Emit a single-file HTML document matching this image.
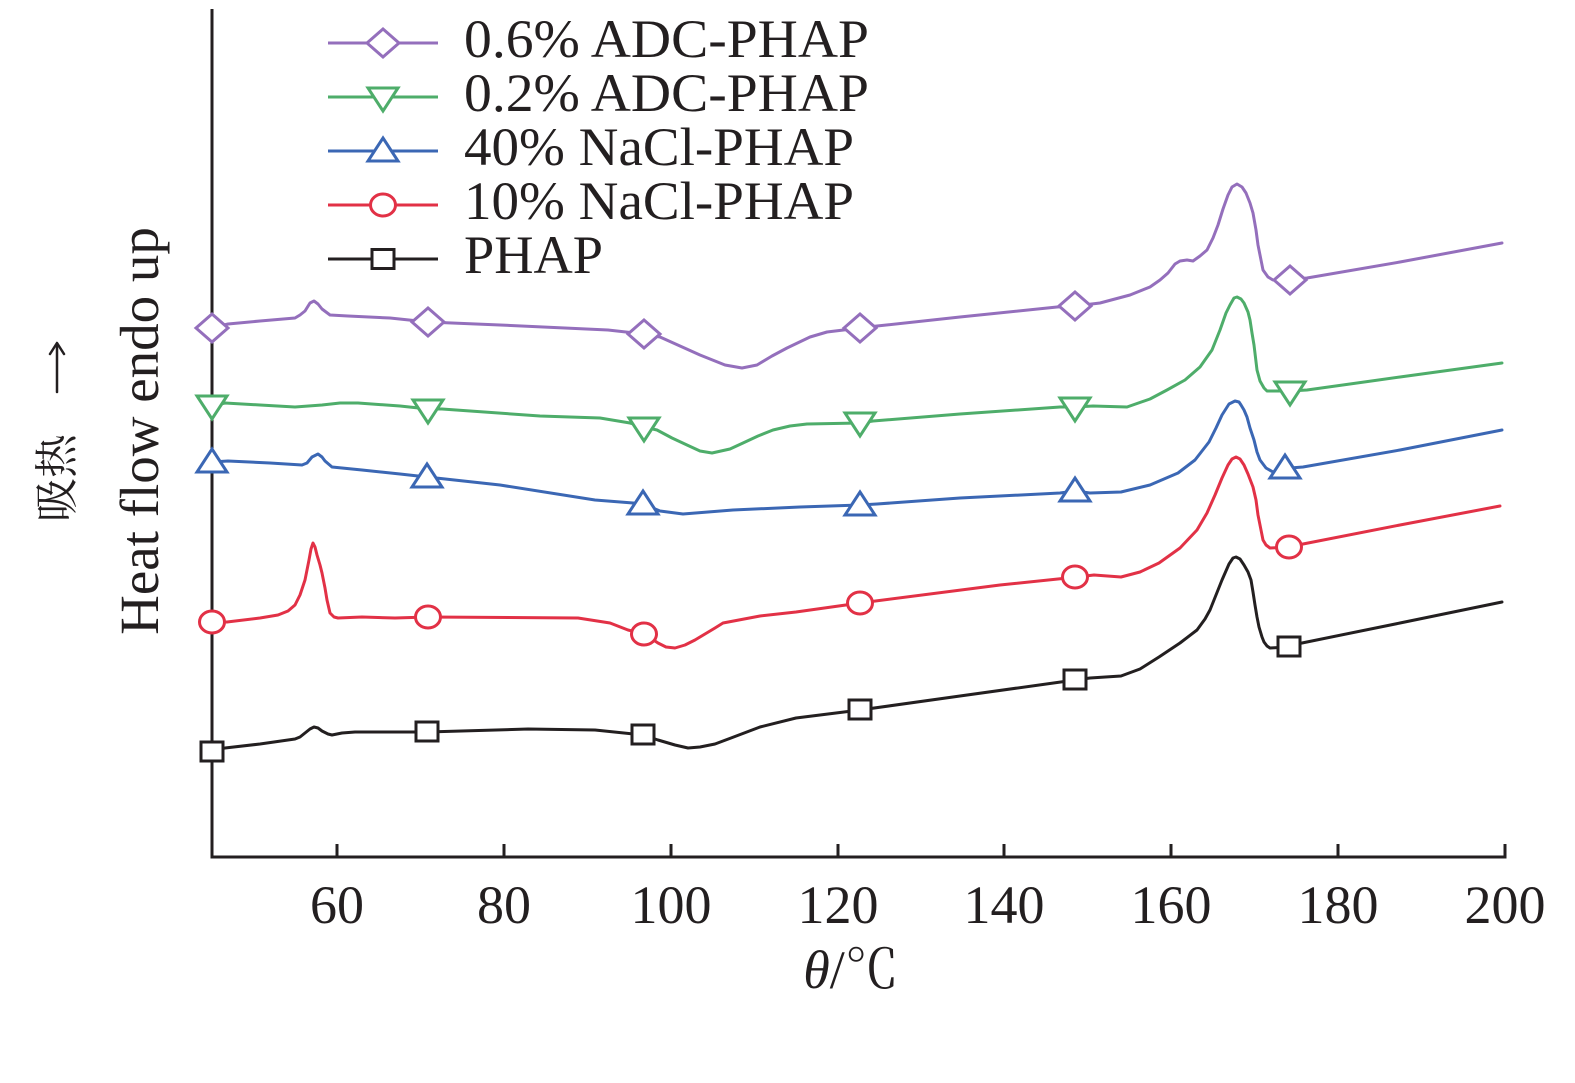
<!DOCTYPE html>
<html>
<head>
<meta charset="utf-8">
<style>
  html,body{margin:0;padding:0;background:#fff;}
  svg{display:block;}
  text{font-family:"Liberation Serif","Noto Serif CJK SC",serif;fill:#231f20;}
</style>
</head>
<body>
<svg width="1575" height="1083" viewBox="0 0 1575 1083" xmlns="http://www.w3.org/2000/svg">
<rect x="0" y="0" width="1575" height="1083" fill="#fff"/>

<!-- axes -->
<g stroke="#231f20" stroke-width="3" fill="none">
  <line x1="212" y1="9" x2="212" y2="858.5"/>
  <line x1="210.5" y1="857" x2="1506.5" y2="857"/>
  <line x1="337" y1="844" x2="337" y2="857"/>
  <line x1="504" y1="844" x2="504" y2="857"/>
  <line x1="671" y1="844" x2="671" y2="857"/>
  <line x1="838" y1="844" x2="838" y2="857"/>
  <line x1="1004" y1="844" x2="1004" y2="857"/>
  <line x1="1171" y1="844" x2="1171" y2="857"/>
  <line x1="1338" y1="844" x2="1338" y2="857"/>
  <line x1="1505" y1="844" x2="1505" y2="857"/>
</g>

<!-- tick labels -->
<g font-size="54" text-anchor="middle">
  <text x="337" y="923">60</text>
  <text x="504" y="923">80</text>
  <text x="671" y="923">100</text>
  <text x="838" y="923">120</text>
  <text x="1004" y="923">140</text>
  <text x="1171" y="923">160</text>
  <text x="1338" y="923">180</text>
  <text x="1505" y="923">200</text>
</g>

<!-- x axis title -->
<text x="851" y="988" font-size="54" text-anchor="middle"><tspan font-style="italic">θ</tspan>/℃</text>

<!-- y axis title -->
<text transform="translate(158,431) rotate(-90)" font-size="55" text-anchor="middle">Heat flow endo up</text>
<text transform="translate(72,522) rotate(-90)" font-size="44" text-anchor="start">吸热</text>
<g stroke="#231f20" stroke-width="2.5" fill="none" stroke-linecap="round" stroke-linejoin="round">
  <line x1="57" y1="392" x2="57" y2="344"/>
  <polyline points="50,354 57,343 64,354"/>
</g>

<!-- curves -->
<g fill="none" stroke-width="3" stroke-linejoin="round" stroke-linecap="round">
  <!-- purple 0.6% ADC -->
  <polyline stroke="#946fbc" points="212,328 228,324 260,321 295,318 300,315 305,311 310,303 314,301 318,304 322,309 330,315 348,316 390,318 428,322 500,325 608,330 644,334 660,337 680,346 700,355 725,365 742,368 757,365 772,356 787,348 810,337 827,332 860,328 877,326 960,317 1057,307 1075,306 1100,303 1130,295 1150,287 1160,280 1168,273 1175,264 1180,261 1187,260 1193,261 1200,256 1207,250 1213,238 1218,225 1223,209 1228,195 1232,187 1237,184 1242,187 1246,193 1250,203 1253,213 1256,230 1258,245 1261,260 1263,270 1268,277 1273,280 1290,280 1307,278 1400,262 1502,243"/>
  <!-- green 0.2% ADC -->
  <polyline stroke="#4ead6a" points="212,406 225,403 260,405 295,407 322,405 340,403 358,403 400,406 428,409 442,409 540,416 600,418 630,423 644,427 657,430 672,438 687,445 700,451 712,453 730,449 743,443 758,436 773,430 790,426 807,424 860,423 873,421 960,414 1060,407 1075,407 1093,406 1127,407 1150,399 1167,390 1185,380 1200,367 1212,350 1220,330 1226,313 1230,305 1234,298 1237,297 1241,299 1244,303 1248,312 1250,320 1252,333 1254,345 1257,370 1260,381 1264,388 1267,391 1290,391 1307,390 1400,377 1502,363"/>
  <!-- blue 40% NaCl -->
  <polyline stroke="#3b67b4" points="212,462 228,461 270,463 302,465 307,463 312,457 318,454 322,457 325,461 332,467 362,470 400,474 427,477 500,485 595,500 633,503 643,504 660,511 683,514 733,510 800,507 860,505 877,504 960,498 1060,493 1075,491 1090,493 1121,492 1150,485 1178,473 1195,460 1209,442 1216,428 1222,415 1229,404 1235,401 1239,402 1241,405 1244,410 1247,417 1250,428 1254,440 1257,452 1260,460 1266,468 1273,472 1290,468 1303,467 1400,450 1502,430"/>
  <!-- red 10% NaCl -->
  <polyline stroke="#e23146" points="212,622 227,622 260,618 278,615 288,611 295,605 300,595 305,580 309,560 311,549 313,543 315,547 317,555 320,565 322,573 325,588 327,600 330,613 334,617 338,618 362,617 395,618 428,617 578,618 610,623 628,630 644,634 652,639 658,643 666,647 675,648 685,645 695,640 705,634 715,628 723,623 760,616 796,612 860,603 1000,585 1077,577 1094,575 1121,577 1140,572 1159,563 1180,548 1197,530 1207,513 1215,495 1222,478 1228,465 1232,459 1236,457 1240,459 1244,465 1248,474 1253,487 1256,500 1258,515 1261,530 1263,540 1266,545 1270,548 1291,547 1303,544 1400,525 1500,506"/>
  <!-- black PHAP -->
  <polyline stroke="#231f20" points="212,752 225,748 260,744 295,739 300,737 305,733 310,729 314,727 318,728 322,731 328,734 332,735 342,733 355,732 427,732 528,729 595,730 643,735 658,740 675,745 688,748 700,747 715,744 731,738 760,727 796,718 860,710 960,696 1075,680 1090,678 1121,676 1140,669 1159,657 1180,643 1197,630 1205,619 1210,610 1216,595 1222,580 1229,564 1233,558 1236,557 1240,559 1244,565 1248,572 1251,580 1253,592 1255,605 1257,617 1259,627 1262,637 1264,642 1267,646 1270,648 1289,647 1302,643 1400,623 1502,602"/>
</g>

<!-- markers -->
<g fill="#fff" stroke-width="3" stroke-linejoin="miter">
  <!-- purple diamonds -->
  <g stroke="#946fbc">
    <polygon points="212,314 228,328 212,342 196,328"/>
    <polygon points="428,308 444,322 428,336 412,322"/>
    <polygon points="644,320 660,334 644,348 628,334"/>
    <polygon points="860,314 876,328 860,342 844,328"/>
    <polygon points="1075,292 1091,306 1075,320 1059,306"/>
    <polygon points="1290,266 1306,280 1290,294 1274,280"/>
  </g>
  <!-- green down triangles -->
  <g stroke="#4ead6a">
    <polygon points="197,396 227,396 212,419"/>
    <polygon points="413,400 443,400 428,423"/>
    <polygon points="629,418 659,418 644,441"/>
    <polygon points="845,413 875,413 860,436"/>
    <polygon points="1060,398 1090,398 1075,421"/>
    <polygon points="1275,382 1305,382 1290,405"/>
  </g>
  <!-- blue up triangles -->
  <g stroke="#3b67b4">
    <polygon points="212,449 227,472 197,472"/>
    <polygon points="427,464 442,487 412,487"/>
    <polygon points="643,491 658,514 628,514"/>
    <polygon points="860,492 875,515 845,515"/>
    <polygon points="1075,478 1090,501 1060,501"/>
    <polygon points="1285,455 1300,478 1270,478"/>
  </g>
  <!-- red circles -->
  <g stroke="#e23146">
    <ellipse cx="212" cy="622" rx="12.5" ry="11"/>
    <ellipse cx="428" cy="617" rx="12.5" ry="11"/>
    <ellipse cx="644" cy="634" rx="12.5" ry="11"/>
    <ellipse cx="860" cy="603" rx="12.5" ry="11"/>
    <ellipse cx="1075" cy="577" rx="12.5" ry="11"/>
    <ellipse cx="1289" cy="547" rx="12.5" ry="11"/>
  </g>
  <!-- black squares -->
  <g stroke="#231f20">
    <rect x="201" y="742" width="22" height="19"/>
    <rect x="416" y="722" width="22" height="19"/>
    <rect x="632" y="725" width="22" height="19"/>
    <rect x="849" y="700" width="22" height="19"/>
    <rect x="1064" y="670" width="22" height="19"/>
    <rect x="1278" y="637" width="22" height="19"/>
  </g>
</g>

<!-- legend -->
<g fill="none" stroke-width="3">
  <line x1="328" y1="43" x2="438" y2="43" stroke="#946fbc"/>
  <line x1="328" y1="97" x2="438" y2="97" stroke="#4ead6a"/>
  <line x1="328" y1="151" x2="438" y2="151" stroke="#3b67b4"/>
  <line x1="328" y1="205" x2="438" y2="205" stroke="#e23146"/>
  <line x1="328" y1="259" x2="438" y2="259" stroke="#231f20"/>
</g>
<g fill="#fff" stroke-width="3">
  <polygon points="383,29 399,43 383,57 367,43" stroke="#946fbc"/>
  <polygon points="368,88 398,88 383,111" stroke="#4ead6a"/>
  <polygon points="383,138 398,161 368,161" stroke="#3b67b4"/>
  <ellipse cx="383" cy="205" rx="12.5" ry="11" stroke="#e23146"/>
  <rect x="372" y="249.5" width="22" height="19" stroke="#231f20"/>
</g>
<g font-size="54">
  <text x="464" y="57" textLength="405" lengthAdjust="spacingAndGlyphs">0.6% ADC-PHAP</text>
  <text x="464" y="111" textLength="405" lengthAdjust="spacingAndGlyphs">0.2% ADC-PHAP</text>
  <text x="464" y="165" textLength="390" lengthAdjust="spacingAndGlyphs">40% NaCl-PHAP</text>
  <text x="464" y="219" textLength="390" lengthAdjust="spacingAndGlyphs">10% NaCl-PHAP</text>
  <text x="464" y="273" textLength="139" lengthAdjust="spacingAndGlyphs">PHAP</text>
</g>
</svg>
</body>
</html>
